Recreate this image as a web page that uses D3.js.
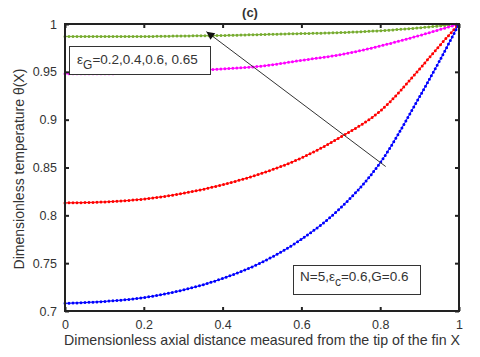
<!DOCTYPE html>
<html>
<head>
<meta charset="utf-8">
<script src="https://cdn.jsdelivr.net/npm/d3@7"></script>
<style>
    body { margin: 0; background: #fff; }
    text { font-family: "Liberation Sans", Arial, sans-serif; fill: #333; }
</style>
</head>
<body>
<svg id="grafico" width="480" height="357"></svg>
<script>

// valores
var posX = [0, 0.1, 0.2, 0.3, 0.4, 0.5, 0.6, 0.7, 0.8, 0.9, 0.95, 1];
var tempVerde    = [0.987, 0.987, 0.987, 0.9875, 0.988, 0.989, 0.990, 0.991, 0.993, 0.996, 0.998, 1.0];
var tempMagenta  = [0.948, 0.948, 0.949, 0.951, 0.953, 0.956, 0.962, 0.968, 0.977, 0.988, 0.994, 1.0];
var tempRojo     = [0.813, 0.814, 0.817, 0.823, 0.832, 0.844, 0.860, 0.882, 0.909, 0.953, 0.977, 1.0];
var tempAzul     = [0.708, 0.710, 0.714, 0.722, 0.734, 0.751, 0.775, 0.808, 0.855, 0.924, 0.961, 1.0];
var ticksX = [0, 0.2, 0.4, 0.6, 0.8, 1];
var ticksY = [0.7, 0.75, 0.8, 0.85, 0.9, 0.95, 1];
var flechaDesde = [0.814, 0.851];
var flechaHasta = [0.359, 0.992];

var series = [
    { valores: tempVerde, color: "#77ac30" },
    { valores: tempMagenta, color: "#ff00ff" },
    { valores: tempRojo, color: "#ff0000" },
    { valores: tempAzul, color: "#0000ff" }
];

var izq = 65, der = 459, arriba = 24, abajo = 311;

var svg = d3.select("#grafico");
var x = d3.scaleLinear().domain([0, 1]).range([izq, der]);
var y = d3.scaleLinear().domain([0.7, 1]).range([abajo, arriba]);

svg.append("defs").append("marker")
    .attr("id", "punta")
    .attr("viewBox", "0 0 10 10")
    .attr("refX", 10).attr("refY", 5)
    .attr("markerWidth", 11).attr("markerHeight", 8)
    .attr("markerUnits", "userSpaceOnUse")
    .attr("orient", "auto")
    .append("path").attr("d", "M0,0 L10,5 L0,10 Z").attr("fill", "#111");

var linea = d3.line()
    .x(function (d, i) { return x(posX[i]); })
    .y(function (d) { return y(d); })
    .curve(d3.curveMonotoneX);

// curvas: linea fina y puntos
series.forEach(function (s) {
    svg.append("path")
        .attr("d", linea(s.valores))
        .attr("fill", "none")
        .attr("stroke", s.color)
        .attr("stroke-width", 1);
    svg.append("path")
        .attr("d", linea(s.valores))
        .attr("fill", "none")
        .attr("stroke", s.color)
        .attr("stroke-width", 3)
        .attr("stroke-linecap", "round")
        .attr("stroke-dasharray", "0 4");
});

// ejes con ticks hacia adentro
var ejeAbajo = d3.axisBottom(x).tickValues(ticksX).tickSize(-4).tickPadding(9).tickFormat(d3.format("~g"));
var ejeIzq = d3.axisLeft(y).tickValues(ticksY).tickSize(-4).tickPadding(8).tickFormat(d3.format("~g"));

var gAbajo = svg.append("g").attr("transform", "translate(0," + abajo + ")").call(ejeAbajo);
var gIzq = svg.append("g").attr("transform", "translate(" + izq + ",0)").call(ejeIzq);
svg.append("g").attr("transform", "translate(0," + arriba + ")")
    .call(d3.axisTop(x).tickValues(ticksX).tickSize(-4).tickFormat(""));
svg.append("g").attr("transform", "translate(" + der + ",0)")
    .call(d3.axisRight(y).tickValues(ticksY).tickSize(-4).tickFormat(""));

svg.selectAll(".domain").remove();
svg.selectAll(".tick line").attr("stroke", "#222").attr("stroke-width", 2);
svg.selectAll(".tick text").style("font-size", "12.5px").attr("fill", "#333");

svg.append("rect")
    .attr("x", izq).attr("y", arriba)
    .attr("width", der - izq).attr("height", abajo - arriba)
    .attr("fill", "none").attr("stroke", "#222").attr("stroke-width", 2);

// flecha
svg.append("line")
    .attr("x1", x(flechaDesde[0])).attr("y1", y(flechaDesde[1]))
    .attr("x2", x(flechaHasta[0])).attr("y2", y(flechaHasta[1]))
    .attr("stroke", "#333").attr("stroke-width", 1)
    .attr("marker-end", "url(#punta)");

// cuadros de texto
svg.append("rect").attr("x", 69.5).attr("y", 46.5).attr("width", 141).attr("height", 28)
    .attr("fill", "#fff").attr("stroke", "#333").attr("stroke-width", 1);
var t1 = svg.append("text").attr("x", 77).attr("y", 64).style("font-size", "13.5px");
t1.append("tspan").text("ε");
t1.append("tspan").attr("dy", 5).style("font-size", "12px").text("G");
t1.append("tspan").attr("dy", -5).text("=0.2,0.4,0.6, 0.65");

svg.append("rect").attr("x", 293.5).attr("y", 265.5).attr("width", 127).attr("height", 29)
    .attr("fill", "#fff").attr("stroke", "#333").attr("stroke-width", 1);
var t2 = svg.append("text").attr("x", 300).attr("y", 281).style("font-size", "13.5px");
t2.append("tspan").text("N=5,ε");
t2.append("tspan").attr("dy", 5).style("font-size", "12px").text("c");
t2.append("tspan").attr("dy", -5).text("=0.6,G=0.6");

// titulos
svg.append("text").attr("x", 250).attr("y", 17).attr("text-anchor", "middle")
    .style("font-size", "13px").style("font-weight", "bold").attr("fill", "#555").text("(c)");
svg.append("text").attr("x", 262).attr("y", 345).attr("text-anchor", "middle")
    .style("font-size", "14.2px").text("Dimensionless axial distance measured from the tip of the fin X");
svg.append("text").attr("transform", "translate(24,169) rotate(-90)").attr("text-anchor", "middle")
    .style("font-size", "14px").text("Dimensionless temperature θ(X)");

</script>
</body>
</html>
